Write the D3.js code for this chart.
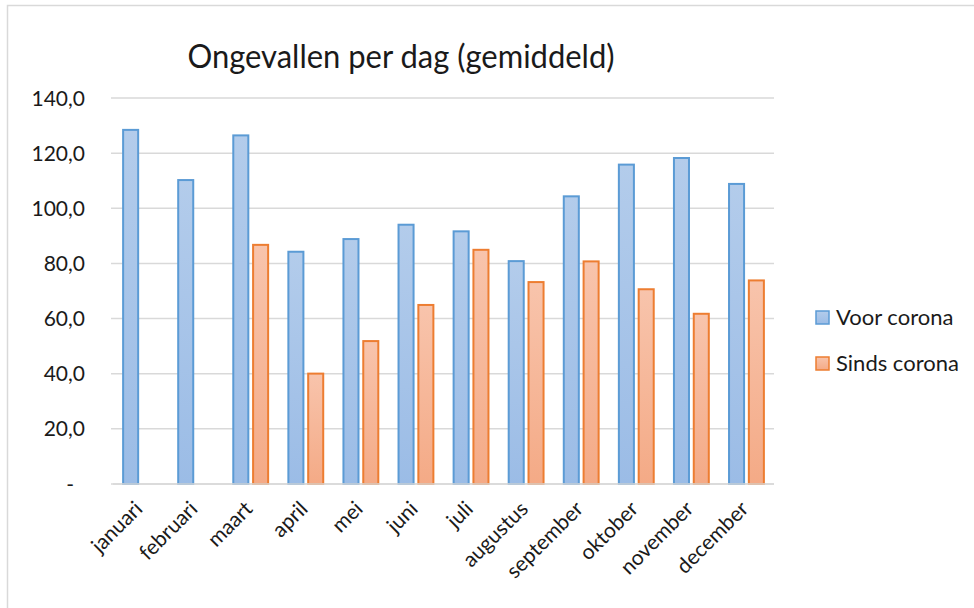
<!DOCTYPE html>
<html>
<head>
<meta charset="utf-8">
<script src="https://cdn.jsdelivr.net/npm/d3@7"></script>
<style>
  body { margin: 0; background: #fff; }
  text { font-family: Lato, "Open Sans", sans-serif; fill: #1a1a1a; }
</style>
</head>
<body>
<div id="chart"></div>
<script>
// data
const months = ["januari", "februari", "maart", "april", "mei", "juni", "juli",
                "augustus", "september", "oktober", "november", "december"];
const voorCorona = [128.8, 110.6, 126.8, 84.6, 89.2, 94.4, 92.0, 81.2, 104.7, 116.2, 118.6, 109.2];
const sindsCorona = [null, null, 87.1, 40.4, 52.2, 65.3, 85.3, 73.6, 81.1, 71.0, 62.1, 74.2];
const seriesNames = ["Voor corona", "Sinds corona"];
const yTicks = [0, 20, 40, 60, 80, 100, 120, 140];
const title = "Ongevallen per dag (gemiddeld)";

const width = 974, height = 608;
const margin = {top: 98, right: 200, bottom: 124, left: 113};

const svg = d3.select("#chart").append("svg")
    .attr("width", width)
    .attr("height", height);

// gradients for the bar fills
const defs = svg.append("defs");
const grads = [
  {id: "gBlue", top: "#b3cceb", bottom: "#9bbce6"},
  {id: "gOrange", top: "#f8c4ac", bottom: "#f4aa86"}
];
grads.forEach(function(g){
  const lg = defs.append("linearGradient")
      .attr("id", g.id)
      .attr("x1", 0).attr("y1", 0).attr("x2", 0).attr("y2", 1);
  lg.append("stop").attr("offset", "0%").attr("stop-color", g.top);
  lg.append("stop").attr("offset", "100%").attr("stop-color", g.bottom);
});
const fills = ["url(#gBlue)", "url(#gOrange)"];
const strokes = ["#5b9bd5", "#ed7d31"];

// outer frame
svg.append("rect")
    .attr("x", 7.5).attr("y", 5.5)
    .attr("width", 1000).attr("height", 1000)
    .attr("fill", "none")
    .attr("stroke", "#d9d9d9")
    .attr("stroke-width", 1.5);

const x = d3.scaleBand()
    .domain(months)
    .range([margin.left, width - margin.right])
    .paddingInner(0)
    .paddingOuter(0);

const xs = d3.scaleBand()
    .domain(seriesNames)
    .range([0, x.bandwidth()])
    .paddingInner(0.14)
    .paddingOuter(0.46);

const y = d3.scaleLinear()
    .domain([0, 140])
    .range([height - margin.bottom, margin.top]);

// gridlines
svg.append("g")
    .selectAll("line")
    .data(yTicks)
    .enter()
    .append("line")
    .attr("x1", margin.left - 2)
    .attr("x2", x.range()[1])
    .attr("y1", d => y(d))
    .attr("y2", d => y(d))
    .attr("stroke", "#d9d9d9")
    .attr("stroke-width", 1.5);

// y labels
svg.append("g")
    .selectAll("text")
    .data(yTicks)
    .enter()
    .append("text")
    .attr("x", d => d === 0 ? 74 : 85)
    .attr("y", d => y(d))
    .attr("dy", "0.36em")
    .attr("text-anchor", "end")
    .style("font-size", "21px")
    .text(d => d === 0 ? "-" : d3.format(".1f")(d).replace(".", ","));

// bars
const rows = months.map(function(m, i){
  return {month: m, values: [voorCorona[i], sindsCorona[i]]};
});

const groups = svg.append("g")
    .selectAll("g")
    .data(rows)
    .enter()
    .append("g")
    .attr("transform", d => "translate(" + x(d.month) + ",0)");

groups.selectAll("rect")
    .data(d => d.values.map((v, k) => ({series: seriesNames[k], k: k, value: v})).filter(e => e.value != null))
    .enter()
    .append("rect")
    .attr("x", d => xs(d.series) + 1)
    .attr("width", xs.bandwidth() - 2)
    .attr("y", d => y(d.value) + 1)
    .attr("height", d => y(0) - y(d.value) - 1)
    .attr("fill", d => fills[d.k])
    .attr("stroke", d => strokes[d.k])
    .attr("stroke-width", 2);

// x axis line
svg.append("line")
    .attr("x1", margin.left)
    .attr("x2", x.range()[1])
    .attr("y1", y(0))
    .attr("y2", y(0))
    .attr("stroke", "#d9d9d9")
    .attr("stroke-width", 1.5);

// month labels rotated
svg.append("g")
    .selectAll("text")
    .data(months)
    .enter()
    .append("text")
    .attr("transform", d => "translate(" + (x(d) + x.bandwidth() / 2 - 2) + "," + (y(0) + 21) + ") rotate(-45)")
    .attr("text-anchor", "end")
    .attr("dy", "0.35em")
    .style("font-size", "21px")
    .text(d => d);

// title
svg.append("text")
    .attr("x", 401)
    .attr("y", 68)
    .attr("text-anchor", "middle")
    .attr("textLength", 427)
    .attr("lengthAdjust", "spacingAndGlyphs")
    .style("font-size", "33px")
    .text(title);

// legend
const legend = svg.append("g")
    .selectAll("g")
    .data(seriesNames)
    .enter()
    .append("g")
    .attr("transform", (d, i) => "translate(816," + (311 + i * 46) + ")");

legend.append("rect")
    .attr("width", 13)
    .attr("height", 13)
    .attr("fill", (d, i) => fills[i])
    .attr("stroke", (d, i) => strokes[i])
    .attr("stroke-width", 1.5);

legend.append("text")
    .attr("x", 20)
    .attr("y", 14)
    .style("font-size", "22px")
    .text(d => d);
</script>
</body>
</html>
